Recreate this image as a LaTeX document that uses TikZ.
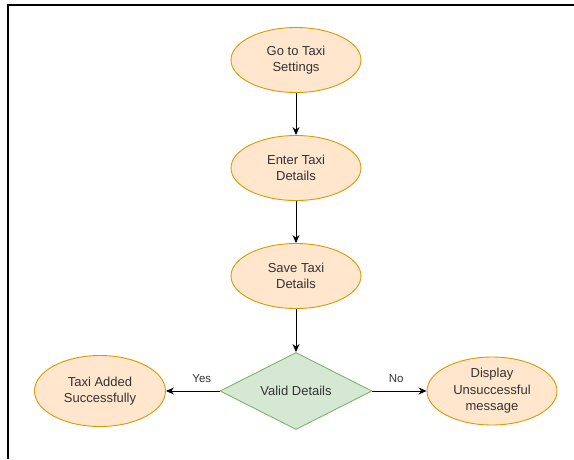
\documentclass[tikz,border=0pt]{standalone}
\usepackage{fontspec}
\setmainfont{Liberation Sans}
\usetikzlibrary{shapes.geometric,arrows.meta}
\definecolor{stepfill}{HTML}{FFE6CC}
\definecolor{stepline}{HTML}{D79B00}
\definecolor{testfill}{HTML}{D5E8D4}
\definecolor{testline}{HTML}{82B366}
\definecolor{labeltext}{HTML}{333333}
\tikzset{
  stepnode/.style={draw=stepline, fill=stepfill, ellipse, line width=0.9pt,
    minimum width=130pt, minimum height=65pt, inner sep=0pt, align=center,
    text=labeltext, font=\fontsize{13}{16.5}\selectfont},
  testnode/.style={draw=testline, fill=testfill, diamond, line width=0.9pt,
    minimum width=152pt, minimum height=77pt, inner sep=0pt, aspect=2,
    text=labeltext, font=\fontsize{13}{16.5}\selectfont},
  flow/.style={-{Stealth[length=8pt,width=7pt]}, line width=0.9pt},
  edgetext/.style={text=labeltext, font=\fontsize{11.5}{13}\selectfont}
}
\begin{document}
\begin{tikzpicture}[x=1pt, y=-1pt]
    \useasboundingbox (0,0) rectangle (574,459);
    % Draw the frame
    \draw[line width=1.2pt] (8,459) -- (8,5) -- (574,5);
    % Draw the main steps
    \node[stepnode] (settings) at (296,60) {Go to Taxi\\Settings};
    \node[stepnode] (enter) at (296,168) {Enter Taxi\\Details};
    \node[stepnode] (save) at (296,276) {Save Taxi\\Details};
    \node[testnode] (valid) at (296,391) {Valid Details};
    % Draw the two outcomes
    \node[stepnode, minimum width=131pt, minimum height=71pt] (added) at (100,391) {Taxi Added\\Successfully};
    \node[stepnode, minimum height=68pt] (failed) at (492,391) {Display\\Unsuccessful\\message};
    % Connect them
    \draw[flow] (settings) -- (enter);
    \draw[flow] (enter) -- (save);
    \draw[flow] (save) -- (valid);
    \draw[flow] (valid) -- node[edgetext, pos=0.33, above=5pt] {Yes} (added);
    \draw[flow] (valid) -- node[edgetext, pos=0.44, above=5pt] {No} (failed);
\end{tikzpicture}
\end{document}
